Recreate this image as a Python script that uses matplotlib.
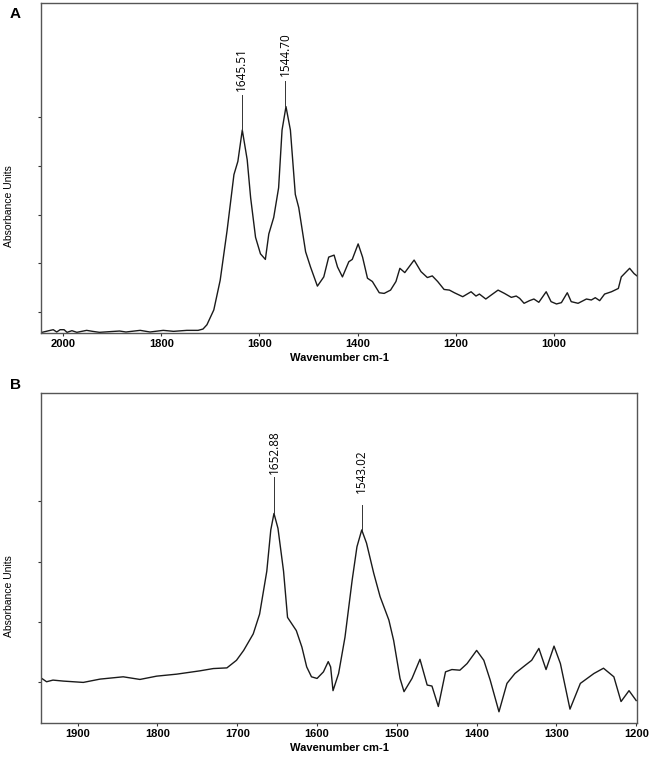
"""FTIR absorbance spectra, panels A and B."""
import matplotlib
matplotlib.use("Agg")
import matplotlib.pyplot as plt

# panel A spectrum (wavenumber cm-1, absorbance, arbitrary units)
wn_a = [2043, 2026, 2020, 2013, 2006, 1998, 1992, 1982, 1972, 1952, 1940, 1926,
        1885, 1872, 1843, 1823, 1796, 1775, 1748, 1725, 1715, 1707, 1693, 1680,
        1666, 1652, 1644, 1635, 1625, 1618, 1608, 1598, 1588, 1581, 1571, 1561,
        1554, 1546, 1537, 1527, 1520, 1506, 1496, 1482, 1469, 1459, 1448, 1441,
        1431, 1418, 1411, 1399, 1390, 1380, 1370, 1356, 1346, 1333, 1322, 1314,
        1304, 1285, 1271, 1258, 1248, 1237, 1224, 1213, 1203, 1186, 1169, 1159,
        1152, 1139, 1128, 1114, 1101, 1087, 1077, 1070, 1061, 1050, 1041, 1031,
        1016, 1006, 995, 985, 973, 965, 951, 934, 924, 916, 907, 897, 883, 869,
        863, 846, 837, 831]
abs_a = [0.002, 0.008, 0.010, 0.003, 0.010, 0.010, 0.002, 0.007, 0.002, 0.008,
         0.005, 0.002, 0.006, 0.003, 0.008, 0.003, 0.008, 0.005, 0.008, 0.008,
         0.012, 0.025, 0.070, 0.160, 0.310, 0.480, 0.520, 0.615, 0.525, 0.410,
         0.290, 0.240, 0.223, 0.300, 0.350, 0.440, 0.615, 0.686, 0.615, 0.420,
         0.380, 0.246, 0.200, 0.142, 0.170, 0.230, 0.236, 0.200, 0.170, 0.216,
         0.223, 0.270, 0.230, 0.166, 0.156, 0.122, 0.120, 0.130, 0.156, 0.196,
         0.183, 0.221, 0.186, 0.168, 0.173, 0.156, 0.132, 0.130, 0.122, 0.110,
         0.125, 0.112, 0.118, 0.103, 0.115, 0.130, 0.120, 0.108, 0.112, 0.105,
         0.090, 0.098, 0.103, 0.093, 0.125, 0.095, 0.088, 0.092, 0.122, 0.095,
         0.090, 0.103, 0.100, 0.107, 0.098, 0.118, 0.125, 0.135, 0.170, 0.196,
         0.180, 0.173]

# panel B spectrum
wn_b = [1945, 1939, 1931, 1918, 1893, 1872, 1843, 1822, 1801, 1776, 1747, 1730,
        1713, 1701, 1692, 1680, 1672, 1663, 1658, 1654, 1649, 1642, 1637, 1626,
        1619, 1613, 1607, 1600, 1592, 1586, 1583, 1580, 1573, 1565, 1556, 1550,
        1544, 1538, 1529, 1521, 1510, 1504, 1496, 1491, 1481, 1471, 1462, 1456,
        1448, 1439, 1431, 1421, 1412, 1400, 1391, 1383, 1372, 1362, 1352, 1339,
        1331, 1322, 1313, 1303, 1295, 1283, 1270, 1253, 1241, 1228, 1219, 1209,
        1200]
abs_b = [0.135, 0.125, 0.130, 0.127, 0.123, 0.133, 0.140, 0.132, 0.142, 0.148,
         0.158, 0.165, 0.167, 0.190, 0.220, 0.270, 0.330, 0.460, 0.585, 0.635,
         0.590, 0.460, 0.320, 0.280, 0.230, 0.170, 0.140, 0.135, 0.155, 0.186,
         0.170, 0.098, 0.150, 0.260, 0.433, 0.534, 0.585, 0.545, 0.454, 0.383,
         0.312, 0.250, 0.135, 0.095, 0.135, 0.193, 0.115, 0.112, 0.050, 0.155,
         0.162, 0.160, 0.180, 0.220, 0.190, 0.130, 0.034, 0.120, 0.150, 0.175,
         0.190, 0.226, 0.162, 0.233, 0.180, 0.042, 0.120, 0.150, 0.166, 0.140,
         0.065, 0.098, 0.068]

# peak labels: (text, wavenumber where the label sits, peak height)
peaks_a = [("1645.51", 1636, 0.615), ("1544.70", 1547, 0.686)]
peaks_b = [("1652.88", 1654, 0.635), ("1543.02", 1544, 0.585)]

TICKS_A = [2000, 1800, 1600, 1400, 1200, 1000]
TICKS_B = [1900, 1800, 1700, 1600, 1500, 1400, 1300, 1200]

plt.rcParams["font.family"] = ["Liberation Sans", "DejaVu Sans"]


def style(ax, xlim, xticks, yticks):
    ax.set_xlim(*xlim)
    ax.set_ylim(0, 1)
    ax.set_xticks(xticks)
    ax.set_xticklabels([str(t) for t in xticks], fontweight="bold", fontsize=8)
    ax.set_yticks(yticks)
    ax.set_yticklabels([])
    ax.tick_params(length=2.5, width=0.8, pad=2, colors="#333333",
                   labelcolor="black")
    for s in ax.spines.values():
        s.set_color("#555555")
        s.set_linewidth(1.0)
    ax.set_xlabel("Wavenumber cm-1", fontweight="bold", fontsize=8, labelpad=3)
    ax.set_ylabel("Absorbance Units", fontsize=7.5)
    ax.yaxis.set_label_coords(-0.046, 0.385)


def label_peaks(ax, peaks, lines):
    for (txt, x, y), (l0, l1, tgap) in zip(peaks, lines):
        ax.plot([x, x], [y + l0, y + l1], color="#333333", lw=0.7)
        ax.text(x, y + l1 + tgap, txt, rotation=90, ha="center", va="bottom",
                fontsize=8.5, family=["Open Sans", "DejaVu Sans"])


fig = plt.figure(figsize=(6.49, 7.62), dpi=100)
ax_a = fig.add_axes([41 / 649, 1 - 333 / 762, 596 / 649, 330 / 762])
ax_b = fig.add_axes([41 / 649, 1 - 723 / 762, 596 / 649, 330 / 762])

ax_a.plot(wn_a, abs_a, color="#1a1a1a", lw=1.0)
style(ax_a, (2045, 831), TICKS_A, [0.064, 0.212, 0.358, 0.506, 0.655])
label_peaks(ax_a, peaks_a, [(0.0, 0.106, 0.012), (0.0, 0.079, 0.015)])

ax_b.plot(wn_b, abs_b, color="#1a1a1a", lw=1.0)
style(ax_b, (1946, 1199), TICKS_B, [0.124, 0.306, 0.488, 0.673])
label_peaks(ax_b, peaks_b, [(0.0, 0.109, 0.012), (0.0, 0.077, 0.035)])

fig.text(10 / 649, 1 - 14 / 762, "A", fontweight="bold", fontsize=11,
         ha="left", va="center")
fig.text(10 / 649, 1 - 385 / 762, "B", fontweight="bold", fontsize=11,
         ha="left", va="center")

fig.savefig("out.png", dpi=100)
